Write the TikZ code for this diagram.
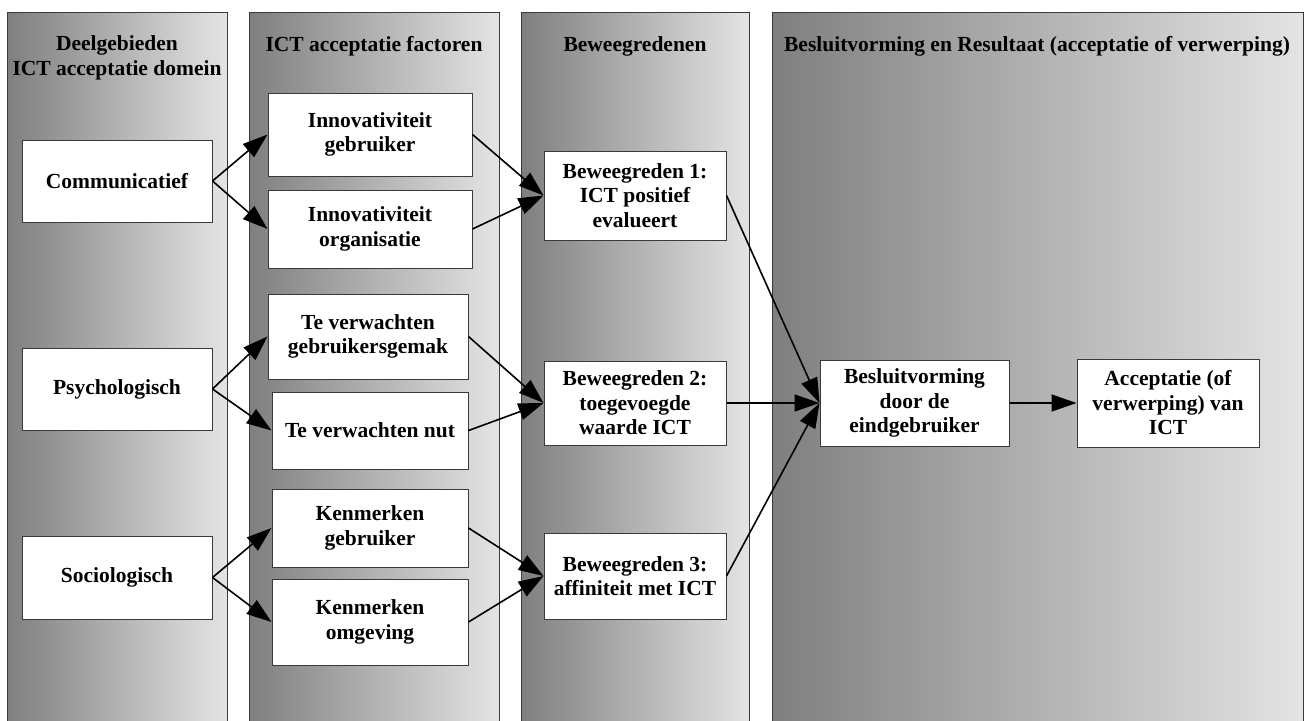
\documentclass[tikz,border=0pt]{standalone}
\usepackage{fontspec}
\setmainfont{Liberation Serif}
\usetikzlibrary{arrows.meta}
\definecolor{colleft}{HTML}{7F7F7F}
\definecolor{colright}{HTML}{E4E4E4}
\definecolor{edgegray}{HTML}{3A3A3A}
\begin{document}
\begin{tikzpicture}[x=1pt,y=-1pt,
  column/.style={draw=edgegray,line width=1pt,left color=colleft,right color=colright,shading angle=90},
  colhead/.style={font=\fontsize{21.5}{24.5}\selectfont\bfseries,align=center,inner sep=0pt},
  box/.style={draw=edgegray,line width=1pt,fill=white,align=center,inner sep=0pt,
    font=\fontsize{21.5}{24.5}\selectfont\bfseries},
  conn/.style={line width=1.6pt,-{Triangle[length=25pt,width=17pt]}}
]
\clip (0,0) rectangle (1305,720);
\fill[white] (0,0) rectangle (1305,720);
% columns
\shade[column] (7,12) rectangle (227,740);
\shade[column] (249,12) rectangle (499,740);
\shade[column] (521,12) rectangle (749,740);
\shade[column] (772,12) rectangle (1303,740);
% headers
\node[colhead] (h1) at (117,58) {Deelgebieden\\ICT acceptatie domein};
\node[colhead] (h2) at (374,46) {ICT acceptatie factoren};
\node[colhead] (h3) at (635,46) {Beweegredenen};
\node[colhead] (h4) at (1037,46) {Besluitvorming en Resultaat (acceptatie of verwerping)};
% column 1
\node[box,minimum width=190pt,minimum height=82pt] (comm) at (117,181) {Communicatief};
\node[box,minimum width=190pt,minimum height=82pt] (psych) at (117,389) {Psychologisch};
\node[box,minimum width=190pt,minimum height=83pt] (soc) at (117,577.5) {Sociologisch};
% column 2
\node[box,minimum width=204pt,minimum height=83pt] (ig) at (370,134.5) {Innovativiteit\\gebruiker};
\node[box,minimum width=204pt,minimum height=78pt] (io) at (370,229) {Innovativiteit\\organisatie};
\node[box,minimum width=200pt,minimum height=85pt] (tvg) at (368,336.5) {Te verwachten\\gebruikersgemak};
\node[box,minimum width=196pt,minimum height=77pt] (tvn) at (370,430.5) {Te verwachten nut};
\node[box,minimum width=196pt,minimum height=78pt] (kg) at (370,528) {Kenmerken\\gebruiker};
\node[box,minimum width=196pt,minimum height=86pt] (ko) at (370,622) {Kenmerken\\omgeving};
% column 3
\node[box,minimum width=182pt,minimum height=89pt] (b1) at (635,195.5) {Beweegreden 1:\\ICT positief\\evalueert};
\node[box,minimum width=182pt,minimum height=84pt] (b2) at (635,403) {Beweegreden 2:\\toegevoegde\\waarde ICT};
\node[box,minimum width=182pt,minimum height=86pt] (b3) at (635,576) {Beweegreden 3:\\affiniteit met ICT};
% column 4
\node[box,minimum width=189pt,minimum height=86pt] (bes) at (914.5,403) {Besluitvorming\\door de\\eindgebruiker};
\node[box,minimum width=182pt,minimum height=88pt] (acc) at (1168,403) {Acceptatie (of\\verwerping) van\\ICT};
% connectors
\draw[conn] (comm.east) -- (ig.west);
\draw[conn] (comm.east) -- (io.west);
\draw[conn] (psych.east) -- (tvg.west);
\draw[conn] (psych.east) -- (tvn.west);
\draw[conn] (soc.east) -- (kg.west);
\draw[conn] (soc.east) -- (ko.west);
\draw[conn] (ig.east) -- (b1.west);
\draw[conn] (io.east) -- (b1.west);
\draw[conn] (tvg.east) -- (b2.west);
\draw[conn] (tvn.east) -- (b2.west);
\draw[conn] (kg.east) -- (b3.west);
\draw[conn] (ko.east) -- (b3.west);
\draw[conn] (b1.east) -- (bes.west);
\draw[conn] (b2.east) -- (bes.west);
\draw[conn] (b3.east) -- (bes.west);
\draw[conn] (bes.east) -- (acc.west);
\end{tikzpicture}
\end{document}
